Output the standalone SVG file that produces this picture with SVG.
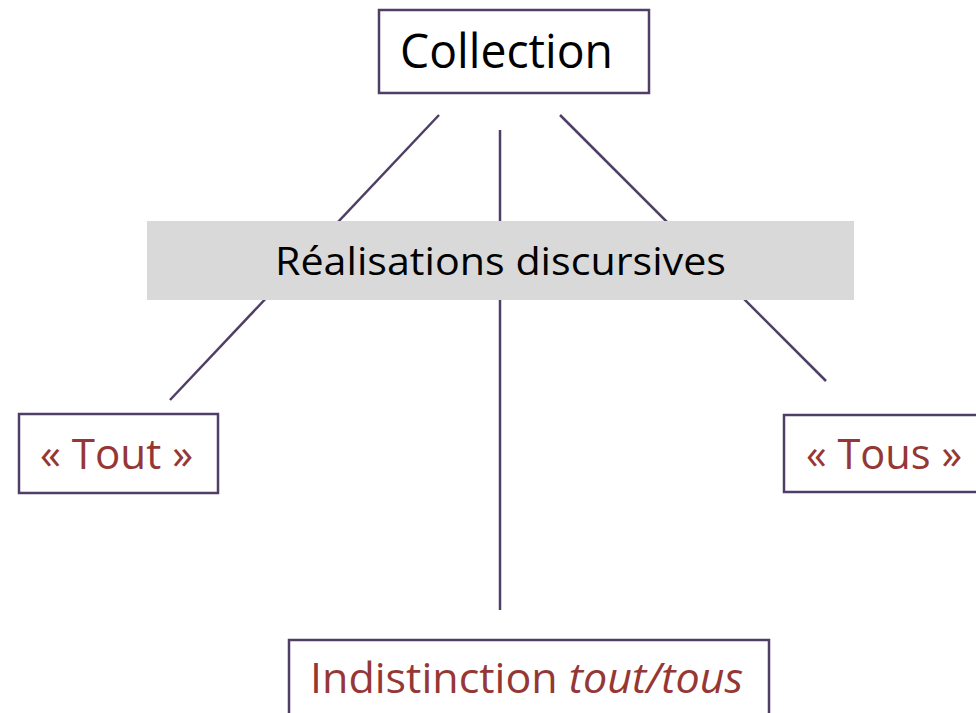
<svg xmlns="http://www.w3.org/2000/svg" width="976" height="713" viewBox="0 0 976 713">
<style>
.box{fill:#ffffff;stroke:#4f3f66;stroke-width:2.5}
.con{stroke:#4f3f66;stroke-width:2.5;fill:none}
.t{font-family:"Open Sans","Noto Sans","Liberation Sans",sans-serif}
.red{fill:#953735}
.blk{fill:#000000}
</style>
<rect width="976" height="713" fill="#ffffff"/>
<g id="connectors">
<line class="con" x1="439" y1="115" x2="170" y2="400"/>
<line class="con" x1="500" y1="130" x2="500" y2="610"/>
<line class="con" x1="560" y1="115" x2="826" y2="381"/>
</g>
<g id="collection">
<rect class="box" x="379" y="10" width="270" height="83"/>
<text class="t blk" x="400" y="68" font-size="47" textLength="213" lengthAdjust="spacingAndGlyphs">Collection</text>
</g>
<g id="realisations">
<rect x="147" y="221" width="707" height="79" fill="#d9d9d9"/>
<text class="t blk" x="275" y="275" font-size="39" textLength="451" lengthAdjust="spacingAndGlyphs">Réalisations discursives</text>
</g>
<g id="tout">
<rect class="box" x="19" y="414" width="199" height="79"/>
<text class="t red" x="40" y="469" font-size="42" textLength="153" lengthAdjust="spacingAndGlyphs">« Tout »</text>
</g>
<g id="tous">
<rect class="box" x="784" y="415" width="200" height="77"/>
<text class="t red" x="806" y="469" font-size="42" textLength="156" lengthAdjust="spacingAndGlyphs">« Tous »</text>
</g>
<g id="indistinction">
<rect class="box" x="289" y="640" width="480" height="90"/>
<text class="t red" x="310" y="693" font-size="42" textLength="433" lengthAdjust="spacingAndGlyphs">Indistinction <tspan font-style="italic">tout/tous</tspan></text>
</g>
</svg>
